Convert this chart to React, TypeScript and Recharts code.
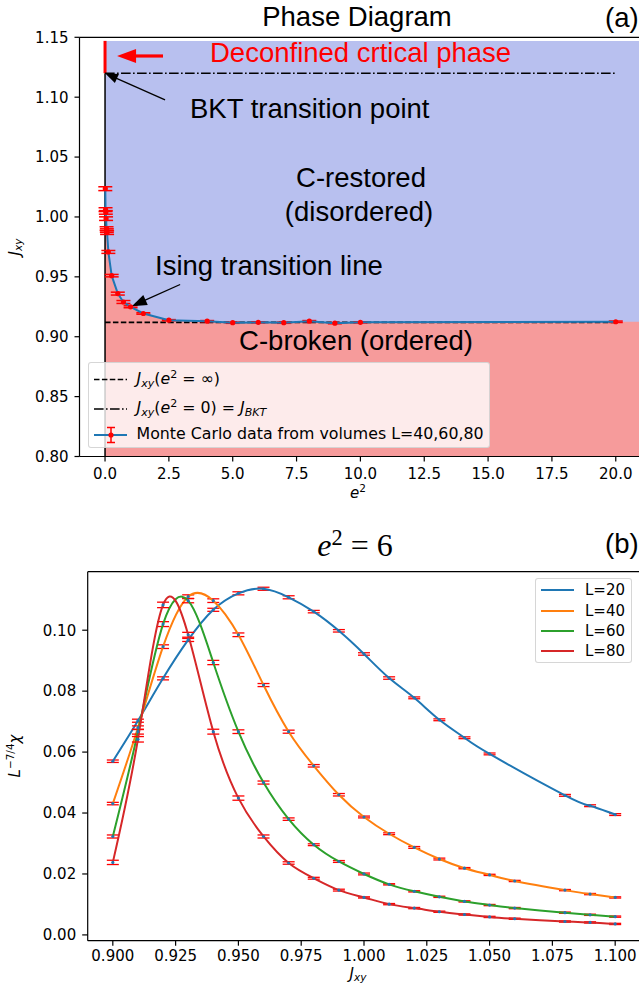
import React from 'react';
import { ComposedChart, Line, Area, XAxis, YAxis, ErrorBar, ReferenceLine, Legend } from 'recharts';

const TICK_FONT = 'DejaVu Sans, sans-serif';
const ANN_FONT = '"Liberation Sans", Arial, sans-serif';

// ---------------- Panel (a): phase diagram ----------------
const mcE2 = [0.01, 0.02, 0.03, 0.04, 0.06, 0.07, 0.08, 0.13, 0.26, 0.5, 0.72, 1.0, 1.5, 2.5, 4, 5, 6, 7, 8, 9, 10, 20];
const mcJ = [1.0236, 1.0061, 1.0038, 0.9986, 0.9903, 0.9886, 0.9869, 0.9708, 0.951, 0.936, 0.929, 0.925, 0.9194, 0.9138, 0.913, 0.9117, 0.912, 0.9117, 0.913, 0.9113, 0.912, 0.9125];
const mcErr = [0.0016, 0.0016, 0.0015, 0.0015, 0.0015, 0.0015, 0.0015, 0.0012, 0.001, 0.0012, 0.0012, 0.0008, 0.0006, 0.0005, 0.0005, 0.0005, 0.0005, 0.0005, 0.0005, 0.0005, 0.0005, 0.0006];
const boundaryEndE2 = [0, 21];
const boundaryEndJ = [1.0236, 0.9125];
const restoredTopJ = 1.147;
const jInfinity = 0.912;
const jBKT = 1.12;
const xTicksA = [0, 2.5, 5, 7.5, 10, 12.5, 15, 17.5, 20];
const yTicksA = [0.8, 0.85, 0.9, 0.95, 1.0, 1.05, 1.1, 1.15];

// annotation arrows (data coordinates: [e2, J])
const redArrow = [[2.27, 1.1344], [0.47, 1.1344]];
const bktArrow = [[2.35, 1.0978], [0, 1.12]];
const isingArrow = [[2.94, 0.9436], [1.05, 0.9255]];

const rowsA: any[] = [];
rowsA.push({ e2: boundaryEndE2[0], boundary: boundaryEndJ[0], top: restoredTopJ });
mcE2.forEach((e, i) => rowsA.push({ e2: e, mc: mcJ[i], mcErr: mcErr[i], boundary: mcJ[i], top: restoredTopJ }));
rowsA.push({ e2: boundaryEndE2[1], boundary: boundaryEndJ[1], top: restoredTopJ });

// ---------------- Panel (b): susceptibility ----------------
const jxy = [0.90, 0.91, 0.92, 0.93, 0.94, 0.95, 0.96, 0.97, 0.98, 0.99, 1.00, 1.01, 1.02, 1.03, 1.04, 1.05, 1.06, 1.08, 1.09, 1.10];
const chiL20 = [0.057, 0.0703, 0.0842, 0.0968, 0.1067, 0.1121, 0.1136, 0.1108, 0.1061, 0.0998, 0.0922, 0.0843, 0.0778, 0.0706, 0.0647, 0.0594, null, 0.0458, 0.0424, 0.0395];
const chiL40 = [0.0431, 0.068, 0.0946, 0.111, 0.1097, 0.0985, 0.082, 0.0667, 0.0555, 0.046, 0.0387, 0.0332, 0.0287, 0.0249, 0.0219, 0.0197, 0.0177, 0.0147, 0.0134, 0.0123];
const chiL60 = [0.0323, 0.0667, 0.102, 0.1097, 0.0894, 0.0667, 0.05, 0.038, 0.0296, 0.0241, 0.02, 0.0166, 0.0143, 0.0125, 0.011, 0.0098, 0.0088, 0.0073, 0.0066, 0.006];
const chiL80 = [0.0238, 0.0642, 0.1083, 0.0985, 0.0667, 0.0449, 0.0323, 0.0236, 0.0186, 0.0147, 0.0123, 0.0101, 0.0088, 0.0076, 0.0067, 0.0059, 0.0053, 0.0044, 0.0041, 0.0036];
const errL20 = [0.0004, 0.0005, 0.0005, 0.0005, 0.0005, 0.0005, 0.0005, 0.0005, 0.0004, 0.0004, 0.0004, 0.0004, 0.0003, 0.0003, 0.0003, 0.0003, null, 0.0003, 0.0003, 0.0003];
const errL40 = [0.0004, 0.0006, 0.0006, 0.0006, 0.0006, 0.0006, 0.0005, 0.0005, 0.0004, 0.0004, 0.0003, 0.0003, 0.0003, 0.0003, 0.0002, 0.0002, 0.0002, 0.0002, 0.0002, 0.0002];
const errL60 = [0.0005, 0.0008, 0.0008, 0.0007, 0.0007, 0.0006, 0.0005, 0.0004, 0.0003, 0.0003, 0.0003, 0.0002, 0.0002, 0.0002, 0.0002, 0.0002, 0.0002, 0.0002, 0.0002, 0.0002];
const errL80 = [0.0007, 0.0009, 0.0009, 0.0008, 0.0008, 0.0007, 0.0005, 0.0004, 0.0003, 0.0003, 0.0002, 0.0002, 0.0002, 0.0002, 0.0002, 0.0002, 0.0002, 0.0002, 0.0002, 0.0002];
const seriesB = [
  { key: 'l20', name: 'L=20', color: '#1f77b4', values: chiL20, errs: errL20 },
  { key: 'l40', name: 'L=40', color: '#ff7f0e', values: chiL40, errs: errL40 },
  { key: 'l60', name: 'L=60', color: '#2ca02c', values: chiL60, errs: errL60 },
  { key: 'l80', name: 'L=80', color: '#d62728', values: chiL80, errs: errL80 },
];
const xTicksB = [0.9, 0.925, 0.95, 0.975, 1.0, 1.025, 1.05, 1.075, 1.1];
const yTicksB = [0, 0.02, 0.04, 0.06, 0.08, 0.1];

const rowsB = jxy.map((j, i) => {
  const r: any = { j };
  seriesB.forEach((s) => {
    r[s.key] = s.values[i];
    r[s.key + 'e'] = s.errs[i];
  });
  return r;
});

// ---------------- helpers ----------------
const I = ({ children }: any) => <span style={{ fontStyle: 'italic' }}>{children}</span>;
const Sub = ({ children }: any) => (
  <span style={{ fontSize: '70%', verticalAlign: '-0.25em', lineHeight: 0 }}>{children}</span>
);
const Sup = ({ children }: any) => (
  <span style={{ fontSize: '70%', verticalAlign: '0.5em', lineHeight: 0 }}>{children}</span>
);

const arrowShape = (color: string, width: number, headLen: number, headHalf: number) => (p: any) => {
  const { x1, y1, x2, y2 } = p;
  const dx = x2 - x1;
  const dy = y2 - y1;
  const L = Math.hypot(dx, dy) || 1;
  const ux = dx / L;
  const uy = dy / L;
  const bx = x2 - ux * headLen;
  const by = y2 - uy * headLen;
  return (
    <g>
      <line x1={x1} y1={y1} x2={bx + ux * 1} y2={by + uy * 1} stroke={color} strokeWidth={width} />
      <polygon
        points={`${x2},${y2} ${bx - uy * headHalf},${by + ux * headHalf} ${bx + uy * headHalf},${by - ux * headHalf}`}
        fill={color}
      />
    </g>
  );
};

const tickStyle = { fontSize: 15, fill: '#000', fontFamily: TICK_FONT };

const abs = (left: number, top: number, extra: any = {}) => ({
  position: 'absolute' as const,
  left,
  top,
  whiteSpace: 'nowrap' as const,
  lineHeight: 1,
  ...extra,
});

const LegendA = () => (
  <div
    style={{
      width: 402,
      height: 86,
      boxSizing: 'border-box',
      background: 'rgba(255,255,255,0.8)',
      border: '1px solid rgba(204,204,204,0.8)',
      borderRadius: 3,
      position: 'relative',
      fontFamily: TICK_FONT,
      fontSize: 15.8,
      color: '#000',
    }}
  >
    <svg width={40} height={86} style={{ position: 'absolute', left: 0, top: 0 }}>
      <line x1={5} x2={38} y1={16.5} y2={16.5} stroke="#000" strokeWidth={1.6} strokeDasharray="5.5 2.4" />
      <line x1={5} x2={38} y1={46} y2={46} stroke="#000" strokeWidth={1.6} strokeDasharray="9.6 2.4 1.6 2.4" />
      <line x1={5} x2={38} y1={72} y2={72} stroke="#1f77b4" strokeWidth={2} />
      <line x1={22} x2={22} y1={64.5} y2={79.5} stroke="red" strokeWidth={1.5} />
      <line x1={18} x2={26} y1={64.5} y2={64.5} stroke="red" strokeWidth={1.5} />
      <line x1={18} x2={26} y1={79.5} y2={79.5} stroke="red" strokeWidth={1.5} />
      <circle cx={22} cy={72} r={2.6} fill="red" />
    </svg>
    <div style={abs(48, 8)}>
      <I>J</I>
      <Sub>
        <I>xy</I>
      </Sub>
      (<I>e</I>
      <Sup>2</Sup> = ∞)
    </div>
    <div style={abs(48, 37)}>
      <I>J</I>
      <Sub>
        <I>xy</I>
      </Sub>
      (<I>e</I>
      <Sup>2</Sup> = 0) = <I>J</I>
      <Sub>
        <I>BKT</I>
      </Sub>
    </div>
    <div style={abs(48, 63)}>Monte Carlo data from volumes L=40,60,80</div>
  </div>
);

const LegendB = () => (
  <div
    style={{
      width: 97,
      height: 85,
      boxSizing: 'border-box',
      background: 'rgba(255,255,255,0.8)',
      border: '1px solid rgba(204,204,204,0.8)',
      borderRadius: 3,
      position: 'relative',
      fontFamily: TICK_FONT,
      fontSize: 15,
      color: '#000',
    }}
  >
    {seriesB.map((s, i) => (
      <div key={s.key} style={{ position: 'absolute', left: 0, top: 11.3 + i * 20.3 - 8, height: 16, width: 97 }}>
        <svg width={40} height={16} style={{ position: 'absolute', left: 0, top: 0 }}>
          <line x1={5} x2={38} y1={8} y2={8} stroke={s.color} strokeWidth={2} />
        </svg>
        <div style={abs(49, 1)}>{s.name}</div>
      </div>
    ))}
  </div>
);

const redDot = (p: any) =>
  p.value == null || p.cy == null ? <g key={p.index} /> : <circle key={p.index} cx={p.cx} cy={p.cy} r={2.6} fill="red" />;
const blueDot = (p: any) =>
  p.value == null || p.cy == null ? <g key={p.index} /> : <circle key={p.index} cx={p.cx} cy={p.cy} r={1.6} fill="#1f77b4" />;

export default function App() {
  return (
    <div
      style={{
        position: 'absolute',
        left: 0,
        top: 0,
        width: 639,
        height: 987,
        overflow: 'hidden',
        background: '#fff',
      }}
    >
      {/* Panel (a) */}
      <div style={{ position: 'absolute', left: 0, top: 0 }}>
        <ComposedChart width={660} height={500} data={rowsA} margin={{ top: 37.3, right: 18.7, bottom: 13.5, left: 0 }}>
          <XAxis
            dataKey="e2"
            type="number"
            domain={[-1, 21]}
            ticks={xTicksA}
            interval={0}
            allowDataOverflow
            tickFormatter={(v: number) => v.toFixed(1)}
            tick={tickStyle}
            tickSize={5}
            tickMargin={7}
            height={30}
            stroke="#000"
            axisLine={{ stroke: '#000', strokeWidth: 1.2 }}
            tickLine={{ stroke: '#000', strokeWidth: 1.2 }}
          />
          <YAxis
            type="number"
            domain={[0.8, 1.15]}
            ticks={yTicksA}
            interval={0}
            allowDataOverflow
            tickFormatter={(v: number) => v.toFixed(2)}
            tick={tickStyle}
            tickSize={5}
            tickMargin={6}
            width={79.5}
            stroke="#000"
            axisLine={{ stroke: '#000', strokeWidth: 1.2 }}
            tickLine={{ stroke: '#000', strokeWidth: 1.2 }}
          />
          <Area dataKey="top" type="linear" baseValue={0.8} fill="#b8c0ef" fillOpacity={1} stroke="none" isAnimationActive={false} dot={false} activeDot={false} />
          <Area dataKey="boundary" type="linear" baseValue={0.8} fill="#f69b9b" fillOpacity={1} stroke="none" isAnimationActive={false} dot={false} activeDot={false} />
          <ReferenceLine y={1.15} stroke="#000" strokeWidth={1.2} />
          <ReferenceLine segment={[{ x: 0, y: 0.8 }, { x: 0, y: jBKT }]} stroke="#000" strokeWidth={1.5} />
          <ReferenceLine segment={[{ x: 0, y: jBKT }, { x: 0, y: restoredTopJ }]} stroke="red" strokeWidth={3} />
          <ReferenceLine segment={[{ x: 0, y: jInfinity }, { x: 20, y: jInfinity }]} stroke="#000" strokeWidth={1.6} strokeDasharray="5.5 2.4" />
          <ReferenceLine segment={[{ x: 0, y: jBKT }, { x: 20, y: jBKT }]} stroke="#000" strokeWidth={1.6} strokeDasharray="9.6 2.4 1.6 2.4" />
          <Line dataKey="mc" type="linear" stroke="#1f77b4" strokeWidth={2} connectNulls dot={redDot} activeDot={false} isAnimationActive={false}>
            <ErrorBar dataKey="mcErr" width={7} stroke="red" strokeWidth={1.5} direction="y" />
          </Line>
          <ReferenceLine
            segment={[{ x: redArrow[0][0], y: redArrow[0][1] }, { x: redArrow[1][0], y: redArrow[1][1] }]}
            shape={arrowShape('red', 3.2, 19, 7)}
          />
          <ReferenceLine
            segment={[{ x: bktArrow[0][0], y: bktArrow[0][1] }, { x: bktArrow[1][0], y: bktArrow[1][1] }]}
            shape={arrowShape('#000', 1.3, 13, 5)}
          />
          <ReferenceLine
            segment={[{ x: isingArrow[0][0], y: isingArrow[0][1] }, { x: isingArrow[1][0], y: isingArrow[1][1] }]}
            shape={arrowShape('#000', 1.3, 15, 5.5)}
          />
          <Legend
            layout="horizontal"
            verticalAlign="middle"
            align="center"
            content={() => <LegendA />}
            wrapperStyle={{ position: 'absolute', left: 87.5, top: 361.5, width: 402, height: 86 }}
          />
        </ComposedChart>
      </div>

      {/* Panel (b) */}
      <div style={{ position: 'absolute', left: 0, top: 500 }}>
        <ComposedChart width={660} height={487} data={rowsB} margin={{ top: 71.7, right: 19.7, bottom: 16.3, left: 0 }}>
          <XAxis
            dataKey="j"
            type="number"
            domain={[0.89, 1.11]}
            ticks={xTicksB}
            interval={0}
            allowDataOverflow
            tickFormatter={(v: number) => v.toFixed(3)}
            tick={tickStyle}
            tickSize={5}
            tickMargin={5}
            height={30}
            stroke="#000"
            axisLine={{ stroke: '#000', strokeWidth: 1.2 }}
            tickLine={{ stroke: '#000', strokeWidth: 1.2 }}
          />
          <YAxis
            type="number"
            domain={[-0.0019, 0.1192]}
            ticks={yTicksB}
            interval={0}
            allowDataOverflow
            tickFormatter={(v: number) => v.toFixed(2)}
            tick={tickStyle}
            tickSize={5.5}
            tickMargin={6}
            width={87.7}
            stroke="#000"
            axisLine={{ stroke: '#000', strokeWidth: 1.2 }}
            tickLine={{ stroke: '#000', strokeWidth: 1.2 }}
          />
          <ReferenceLine y={0.1192} stroke="#000" strokeWidth={1.2} />
          {seriesB.map((s) => (
            <Line
              key={s.key}
              dataKey={s.key}
              name={s.name}
              type="natural"
              stroke={s.color}
              strokeWidth={2}
              connectNulls
              dot={blueDot}
              activeDot={false}
              isAnimationActive={false}
            >
              <ErrorBar dataKey={s.key + 'e'} width={6} stroke="red" strokeWidth={1.3} direction="y" />
            </Line>
          ))}
          <Legend
            layout="horizontal"
            verticalAlign="middle"
            align="center"
            content={() => <LegendB />}
            wrapperStyle={{ position: 'absolute', left: 535, top: 78, width: 97, height: 85 }}
          />
        </ComposedChart>
      </div>

      {/* Texts panel (a) */}
      <div style={abs(357, 17, { transform: 'translate(-50%,-50%)', fontFamily: ANN_FONT, fontSize: 27.5 })}>Phase Diagram</div>
      <div style={abs(605, 4, { fontFamily: ANN_FONT, fontSize: 27.5 })}>(a)</div>
      <div style={abs(210, 39, { fontFamily: ANN_FONT, fontSize: 27.5, color: '#f00' })}>Deconfined crtical phase</div>
      <div style={abs(190, 95, { fontFamily: ANN_FONT, fontSize: 27.5 })}>BKT transition point</div>
      <div style={abs(361, 178, { transform: 'translate(-50%,-50%)', fontFamily: ANN_FONT, fontSize: 27.5 })}>C-restored</div>
      <div style={abs(359, 212, { transform: 'translate(-50%,-50%)', fontFamily: ANN_FONT, fontSize: 27.5 })}>(disordered)</div>
      <div style={abs(155, 252, { fontFamily: ANN_FONT, fontSize: 27.5 })}>Ising transition line</div>
      <div style={abs(356, 341, { transform: 'translate(-50%,-50%)', fontFamily: ANN_FONT, fontSize: 27.5 })}>C-broken (ordered)</div>
      <div style={abs(358, 492.5, { transform: 'translate(-50%,-50%)', fontFamily: TICK_FONT, fontSize: 15 })}>
        <I>e</I>
        <Sup>2</Sup>
      </div>
      <div style={abs(15, 247, { transform: 'translate(-50%,-50%) rotate(-90deg)', fontFamily: TICK_FONT, fontSize: 15 })}>
        <I>J</I>
        <Sub>
          <I>xy</I>
        </Sub>
      </div>

      {/* Texts panel (b) */}
      <div style={abs(355, 545, { transform: 'translate(-50%,-50%)', fontFamily: '"Liberation Serif", "DejaVu Serif", serif', fontSize: 32 })}>
        <I>e</I>
        <Sup>2</Sup> = 6
      </div>
      <div style={abs(605, 530, { fontFamily: ANN_FONT, fontSize: 27.5 })}>(b)</div>
      <div style={abs(358, 974, { transform: 'translate(-50%,-50%)', fontFamily: TICK_FONT, fontSize: 15 })}>
        <I>J</I>
        <Sub>
          <I>xy</I>
        </Sub>
      </div>
      <div style={abs(15, 756, { transform: 'translate(-50%,-50%) rotate(-90deg)', fontFamily: TICK_FONT, fontSize: 15 })}>
        <I>L</I>
        <Sup>−7/4</Sup>
        <I>χ</I>
      </div>
    </div>
  );
}
